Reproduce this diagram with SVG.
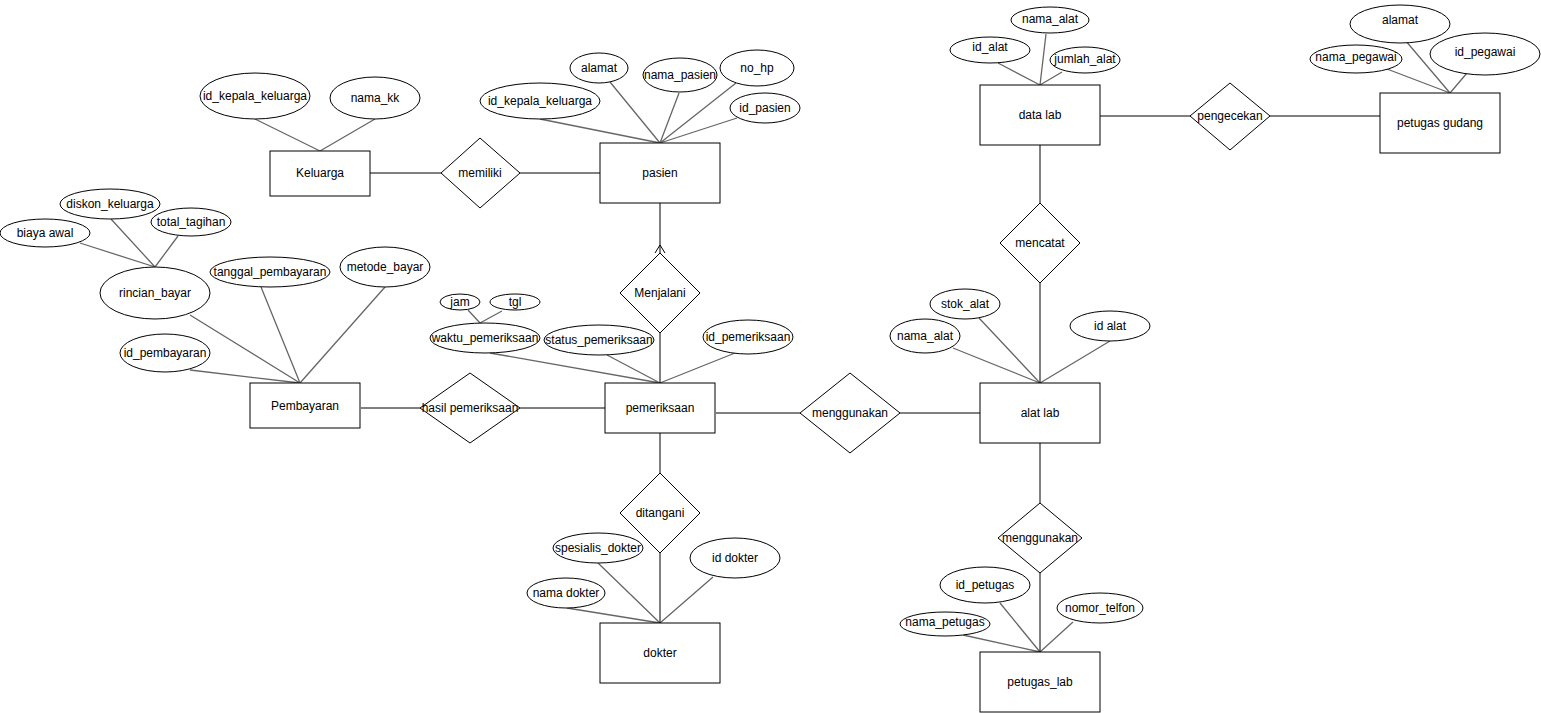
<svg xmlns="http://www.w3.org/2000/svg" width="1541" height="713" viewBox="0 0 1541 713">
<style>
.e{fill:#fff;stroke:#000;stroke-width:1}
.t{font-family:"Liberation Sans",Arial,sans-serif;font-size:12px;fill:#000;text-anchor:middle;dominant-baseline:central}
.a{stroke:#666;stroke-width:1.3;fill:none}
.r{stroke:#000;stroke-width:1;fill:none}
</style>
<rect width="1541" height="713" fill="#fff"/>
<g id="connectors">
<!-- attribute lines -->
<path class="a" d="M255,119L320,151M375,119L320,151"/>
<path class="a" d="M80,243L155,267M111,219L155,267M178,236L155,267"/>
<path class="a" d="M190,315L300,383M261,287L300,383M385,287L300,383M190,370L300,383"/>
<path class="a" d="M540,119L660,143M610,82L660,143M679,93L660,143M736,83L660,143M737,118L660,143"/>
<path class="a" d="M468,310L480,323M502,311L480,323"/>
<path class="a" d="M490,353L660,383M607,355L660,383M735,353L660,383"/>
<path class="a" d="M998,63L1040,85M1046,34L1040,85M1062,72L1040,85"/>
<path class="a" d="M1387,69L1450,93M1405,40L1450,93M1467,73L1450,93"/>
<path class="a" d="M953,348L1040,383M979,318L1040,383M1110,341L1040,383"/>
<path class="a" d="M1000,603L1040,652M963,635L1040,652M1073,622L1040,652"/>
<path class="a" d="M598,563L660,623M567,608L660,623M713,577L660,623"/>
<!-- relationship lines -->
<path class="r" d="M370,173H441M520,173H600"/>
<path class="r" d="M660,203V253M655,253L660,245L665,253"/>
<path class="r" d="M660,333V383"/>
<path class="r" d="M361,408H420M520,408H605"/>
<path class="r" d="M716,413H800M900,413H980"/>
<path class="r" d="M660,433V473M660,553V623"/>
<path class="r" d="M1100,116H1190M1270,116H1380"/>
<path class="r" d="M1040,145V203M1040,283V383"/>
<path class="r" d="M1040,443V503M1040,573V652"/>
</g>
<g id="Keluarga"><rect class="e" x="270" y="151" width="100" height="45"/><text class="t" x="320" y="173">Keluarga</text></g>
<g id="attr-id_kepala_keluarga-k"><ellipse class="e" cx="255" cy="96" rx="55" ry="23"/><text class="t" x="255" y="96">id_kepala_keluarga</text></g>
<g id="attr-nama_kk"><ellipse class="e" cx="375" cy="98" rx="45" ry="21"/><text class="t" x="375" y="98">nama_kk</text></g>
<g id="memiliki"><polygon class="e" points="480,138 520,173 480,208 441,173"/><text class="t" x="480" y="173">memiliki</text></g>
<g id="pasien"><rect class="e" x="600" y="143" width="120" height="60"/><text class="t" x="660" y="173">pasien</text></g>
<g id="attr-id_kepala_keluarga-p"><ellipse class="e" cx="540" cy="101" rx="60" ry="18"/><text class="t" x="540" y="101">id_kepala_keluarga</text></g>
<g id="attr-alamat-p"><ellipse class="e" cx="599" cy="68" rx="29" ry="15"/><text class="t" x="599" y="68">alamat</text></g>
<g id="attr-nama_pasien"><ellipse class="e" cx="680" cy="75" rx="37" ry="17"/><text class="t" x="680" y="75">nama_pasien</text></g>
<g id="attr-no_hp"><ellipse class="e" cx="757" cy="68" rx="37" ry="18"/><text class="t" x="757" y="68">no_hp</text></g>
<g id="attr-id_pasien"><ellipse class="e" cx="765" cy="108" rx="35" ry="15"/><text class="t" x="765" y="108">id_pasien</text></g>
<g id="Menjalani"><polygon class="e" points="660,253 700,293 660,333 620,293"/><text class="t" x="660" y="293">Menjalani</text></g>
<g id="pemeriksaan"><rect class="e" x="605" y="383" width="110" height="50"/><text class="t" x="660" y="408">pemeriksaan</text></g>
<g id="attr-jam"><ellipse class="e" cx="460" cy="302" rx="20" ry="8"/><text class="t" x="460" y="302">jam</text></g>
<g id="attr-tgl"><ellipse class="e" cx="515" cy="302" rx="25" ry="8"/><text class="t" x="515" y="302">tgl</text></g>
<g id="attr-waktu_pemeriksaan"><ellipse class="e" cx="485" cy="338" rx="55" ry="15"/><text class="t" x="485" y="338">waktu_pemeriksaan</text></g>
<g id="attr-status_pemeriksaan"><ellipse class="e" cx="599" cy="340" rx="55" ry="15"/><text class="t" x="599" y="340">status_pemeriksaan</text></g>
<g id="attr-id_pemeriksaan"><ellipse class="e" cx="748" cy="337" rx="45" ry="17"/><text class="t" x="748" y="337">id_pemeriksaan</text></g>
<g id="hasil_pemeriksaan"><polygon class="e" points="470,373 520,408 470,443 420,408"/><text class="t" x="470" y="408">hasil pemeriksaan</text></g>
<g id="Pembayaran"><rect class="e" x="250" y="383" width="110" height="45"/><text class="t" x="305" y="406">Pembayaran</text></g>
<g id="attr-rincian_bayar"><ellipse class="e" cx="155" cy="293" rx="55" ry="26"/><text class="t" x="155" y="293">rincian_bayar</text></g>
<g id="attr-biaya_awal"><ellipse class="e" cx="45" cy="233" rx="45" ry="14"/><text class="t" x="45" y="233">biaya awal</text></g>
<g id="attr-diskon_keluarga"><ellipse class="e" cx="110" cy="204" rx="50" ry="15"/><text class="t" x="110" y="204">diskon_keluarga</text></g>
<g id="attr-total_tagihan"><ellipse class="e" cx="191" cy="222" rx="40" ry="14"/><text class="t" x="191" y="222">total_tagihan</text></g>
<g id="attr-tanggal_pembayaran"><ellipse class="e" cx="270" cy="272" rx="60" ry="15"/><text class="t" x="270" y="272">tanggal_pembayaran</text></g>
<g id="attr-metode_bayar"><ellipse class="e" cx="385" cy="267" rx="45" ry="20"/><text class="t" x="385" y="267">metode_bayar</text></g>
<g id="attr-id_pembayaran"><ellipse class="e" cx="165" cy="353" rx="45" ry="19"/><text class="t" x="165" y="353">id_pembayaran</text></g>
<g id="ditangani"><polygon class="e" points="660,473 700,513 660,553 620,513"/><text class="t" x="660" y="513">ditangani</text></g>
<g id="dokter"><rect class="e" x="600" y="623" width="120" height="60"/><text class="t" x="660" y="653">dokter</text></g>
<g id="attr-spesialis_dokter"><ellipse class="e" cx="598" cy="548" rx="45" ry="15"/><text class="t" x="598" y="548">spesialis_dokter</text></g>
<g id="attr-nama_dokter"><ellipse class="e" cx="566" cy="593" rx="39" ry="15"/><text class="t" x="566" y="593">nama dokter</text></g>
<g id="attr-id_dokter"><ellipse class="e" cx="735" cy="558" rx="45" ry="20"/><text class="t" x="735" y="558">id dokter</text></g>
<g id="menggunakan1"><polygon class="e" points="850,373 900,413 850,453 800,413"/><text class="t" x="850" y="413">menggunakan</text></g>
<g id="alat_lab"><rect class="e" x="980" y="383" width="120" height="60"/><text class="t" x="1040" y="413">alat lab</text></g>
<g id="attr-stok_alat"><ellipse class="e" cx="965" cy="304" rx="35" ry="15"/><text class="t" x="965" y="304">stok_alat</text></g>
<g id="attr-nama_alat-al"><ellipse class="e" cx="925" cy="336" rx="35" ry="17"/><text class="t" x="925" y="336">nama_alat</text></g>
<g id="attr-id_alat-al"><ellipse class="e" cx="1110" cy="326" rx="40" ry="15"/><text class="t" x="1110" y="326">id alat</text></g>
<g id="mencatat"><polygon class="e" points="1040,203 1080,243 1040,283 1000,243"/><text class="t" x="1040" y="243">mencatat</text></g>
<g id="data_lab"><rect class="e" x="980" y="85" width="120" height="60"/><text class="t" x="1040" y="115">data lab</text></g>
<g id="attr-id_alat"><ellipse class="e" cx="990" cy="50" rx="40" ry="13"/><text class="t" x="990" y="47">id_alat</text></g>
<g id="attr-nama_alat"><ellipse class="e" cx="1050" cy="20" rx="39" ry="13"/><text class="t" x="1050" y="19">nama_alat</text></g>
<g id="attr-jumlah_alat"><ellipse class="e" cx="1085" cy="60" rx="35" ry="13"/><text class="t" x="1085" y="59">jumlah_alat</text></g>
<g id="pengecekan"><polygon class="e" points="1230,83 1270,116 1230,150 1190,116"/><text class="t" x="1230" y="116">pengecekan</text></g>
<g id="petugas_gudang"><rect class="e" x="1380" y="93" width="120" height="60"/><text class="t" x="1440" y="123">petugas gudang</text></g>
<g id="attr-alamat-g"><ellipse class="e" cx="1400" cy="24" rx="50" ry="19"/><text class="t" x="1400" y="20">alamat</text></g>
<g id="attr-nama_pegawai"><ellipse class="e" cx="1356" cy="59" rx="46" ry="14"/><text class="t" x="1356" y="57">nama_pegawai</text></g>
<g id="attr-id_pegawai"><ellipse class="e" cx="1485" cy="54" rx="55" ry="21"/><text class="t" x="1485" y="52">id_pegawai</text></g>
<g id="menggunakan2"><polygon class="e" points="1040,503 1082,538 1040,573 998,538"/><text class="t" x="1040" y="538">menggunakan</text></g>
<g id="petugas_lab"><rect class="e" x="980" y="652" width="120" height="60"/><text class="t" x="1040" y="682">petugas_lab</text></g>
<g id="attr-id_petugas"><ellipse class="e" cx="985" cy="585" rx="45" ry="18"/><text class="t" x="985" y="585">id_petugas</text></g>
<g id="attr-nama_petugas"><ellipse class="e" cx="945" cy="624" rx="45" ry="12"/><text class="t" x="945" y="622">nama_petugas</text></g>
<g id="attr-nomor_telfon"><ellipse class="e" cx="1100" cy="608" rx="43" ry="15"/><text class="t" x="1100" y="608">nomor_telfon</text></g>
</svg>
